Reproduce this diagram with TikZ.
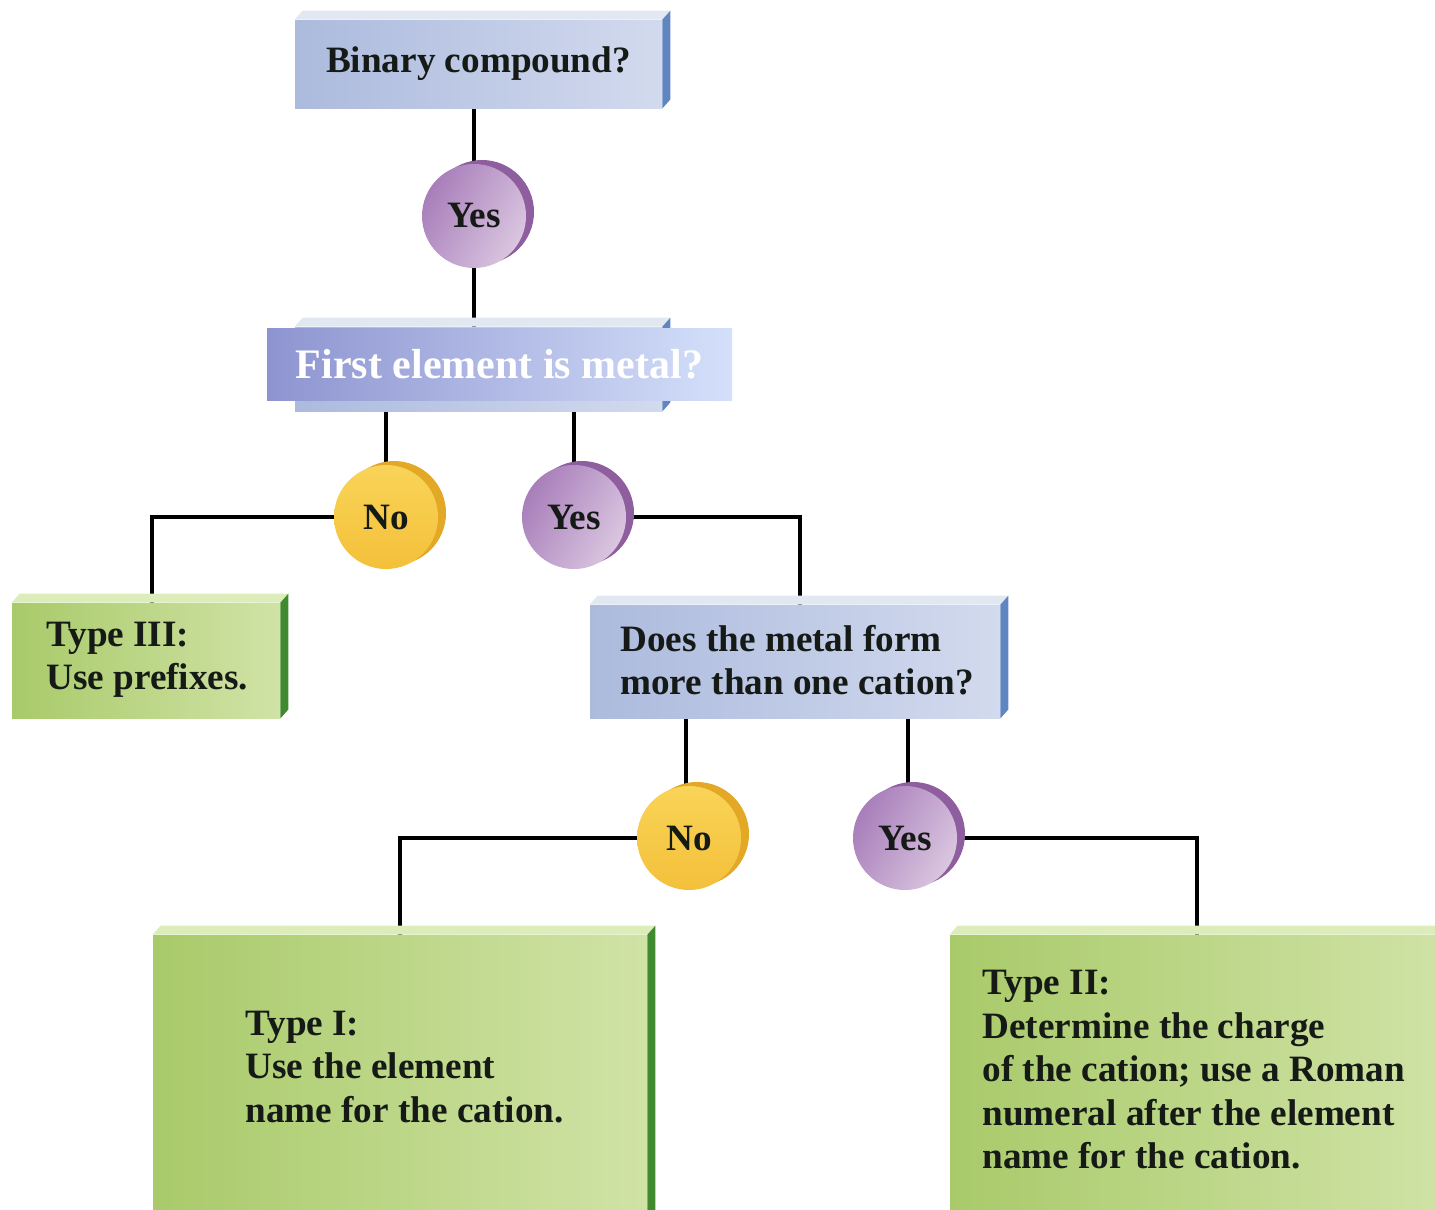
\documentclass[tikz,border=0pt]{standalone}
\usepackage{fontspec}
\setmainfont{Liberation Serif}
\usetikzlibrary{calc}
\pgfdeclarelayer{background}
\pgfsetlayers{background,main}
\definecolor{inkc}{HTML}{161A16}
\definecolor{blueL}{HTML}{ACBADD}
\definecolor{blueR}{HTML}{D2DAEE}
\definecolor{blueSide}{HTML}{5F86C0}
\definecolor{blueTop}{HTML}{E2E8F2}
\definecolor{greenL}{HTML}{A9CA6A}
\definecolor{greenR}{HTML}{D0E3A6}
\definecolor{greenSide}{HTML}{3F8A2F}
\definecolor{greenTop}{HTML}{DCEDBA}
\definecolor{purpL}{HTML}{A87EBA}
\definecolor{purpR}{HTML}{DAC6E0}
\definecolor{purpSide}{HTML}{8E5E9E}
\definecolor{yelL}{HTML}{F9D458}
\definecolor{yelR}{HTML}{F4C03A}
\definecolor{yelSide}{HTML}{E2A826}
\definecolor{ovL}{HTML}{8E94D0}
\definecolor{ovR}{HTML}{D4E0FA}
\newcommand\bevelbox[3]{%
  \fill[#2] (#1.north west) -- ++(8,-9) -- ($(#1.north east)+(8,-9)$) -- (#1.north east) -- cycle;
  \fill[#3] (#1.north east) -- ++(8,-9) -- ($(#1.south east)+(8,-9)$) -- (#1.south east) -- cycle;}
\newcommand\coinnode[6]{%
  \fill[#6] ([shift={(8,-4)}]#2,#3) circle (26pt);
  \node[coin, #5] (#1) at (#2,#3) {#4};}
\tikzset{
  txt/.style={font=\fontsize{18.6}{21.75}\selectfont\bfseries, text=inkc, align=left, inner sep=0pt},
  bluebox/.style={rectangle, inner sep=0pt, left color=blueL, right color=blueR, draw=none},
  greenbox/.style={rectangle, inner sep=0pt, left color=greenL, right color=greenR, draw=none},
  coin/.style={circle, inner sep=0pt, minimum size=52pt, font=\fontsize{18.6}{21.75}\selectfont\bfseries, text=inkc},
  purpcoin/.style={shading=axis, left color=purpL, right color=purpR, shading angle=60},
  yelcoin/.style={shading=axis, top color=yelL, bottom color=yelR},
  link/.style={draw=black, line width=1.8pt},
}
\begin{document}
\begin{tikzpicture}[x=0.5pt, y=-0.5pt]
\useasboundingbox (0,0) rectangle (1435,1210);
\clip (0,0) rectangle (1435,1210);

% top question
\node[bluebox, minimum width=183.5pt, minimum height=44pt, txt] (q1) at (478.5,64) {Binary compound?};
\bevelbox{q1}{blueTop}{blueSide}
\coinnode{c1}{474}{216}{Yes}{purpcoin}{purpSide}

% second question
\node[bluebox, minimum width=183.5pt, minimum height=42pt] (q2) at (478.5,369) {};
\bevelbox{q2}{blueTop}{blueSide}
\node[rectangle, inner sep=0pt, minimum width=232.5pt, minimum height=36pt, left color=ovL, right color=ovR,
  font=\fontsize{21}{24}\selectfont\bfseries, text=white] (r2) at (499.5,364) {First element is metal?};

\coinnode{c2n}{386}{517}{No}{yelcoin}{yelSide}
\coinnode{c2y}{574}{517}{Yes}{purpcoin}{purpSide}

% Type III
\node[greenbox, minimum width=134pt, minimum height=57.5pt] (t3) at (146,660.5) {};
\bevelbox{t3}{greenTop}{greenSide}
\node[txt, anchor=west] (t3txt) at (46,660) {Type III:\\Use prefixes.};

% third question
\node[bluebox, minimum width=205pt, minimum height=56.5pt] (q3) at (795,661.5) {};
\bevelbox{q3}{blueTop}{blueSide}
\node[txt, anchor=west] (q3txt) at (620,660) {Does the metal form\\more than one cation?};

\coinnode{c3n}{689}{838}{No}{yelcoin}{yelSide}
\coinnode{c3y}{905}{838}{Yes}{purpcoin}{purpSide}

% Type I
\node[greenbox, minimum width=247pt, minimum height=147.5pt] (t1) at (400,1082.5) {};
\bevelbox{t1}{greenTop}{greenSide}
\node[txt, anchor=west] (t1txt) at (245,1067) {Type I:\\Use the element\\name for the cation.};

% Type II
\node[greenbox, minimum width=250pt, minimum height=147.5pt] (t2) at (1200,1082.5) {};
\bevelbox{t2}{greenTop}{greenSide}
\node[txt, anchor=west] (t2txt) at (982,1070) {Type II:\\Determine the charge\\of the cation; use a Roman\\numeral after the element\\name for the cation.};

% connectors
\begin{pgfonlayer}{background}
\draw[link] (q1.south -| c1.north) -- (c1.north);
\draw[link] (c1.south) -- (c1.south |- q2.north);
\draw[link] (c2n.north |- q2.south) -- (c2n.north);
\draw[link] (c2y.north |- q2.south) -- (c2y.north);
\draw[link] (c2n.center) -| ([xshift=3pt]t3.north);
\draw[link] (c2y.center) -| ([xshift=2.5pt]q3.north);
\draw[link] ([xshift=-1.5pt]c3n.north |- q3.south) -- ([xshift=-1.5pt]c3n.north);
\draw[link] ([xshift=1.5pt]c3y.north |- q3.south) -- ([xshift=1.5pt]c3y.north);
\draw[link] (c3n.center) -| (t1.north);
\draw[link] (c3y.center) -| ([xshift=-1.5pt]t2.north);
\end{pgfonlayer}
\end{tikzpicture}
\end{document}
